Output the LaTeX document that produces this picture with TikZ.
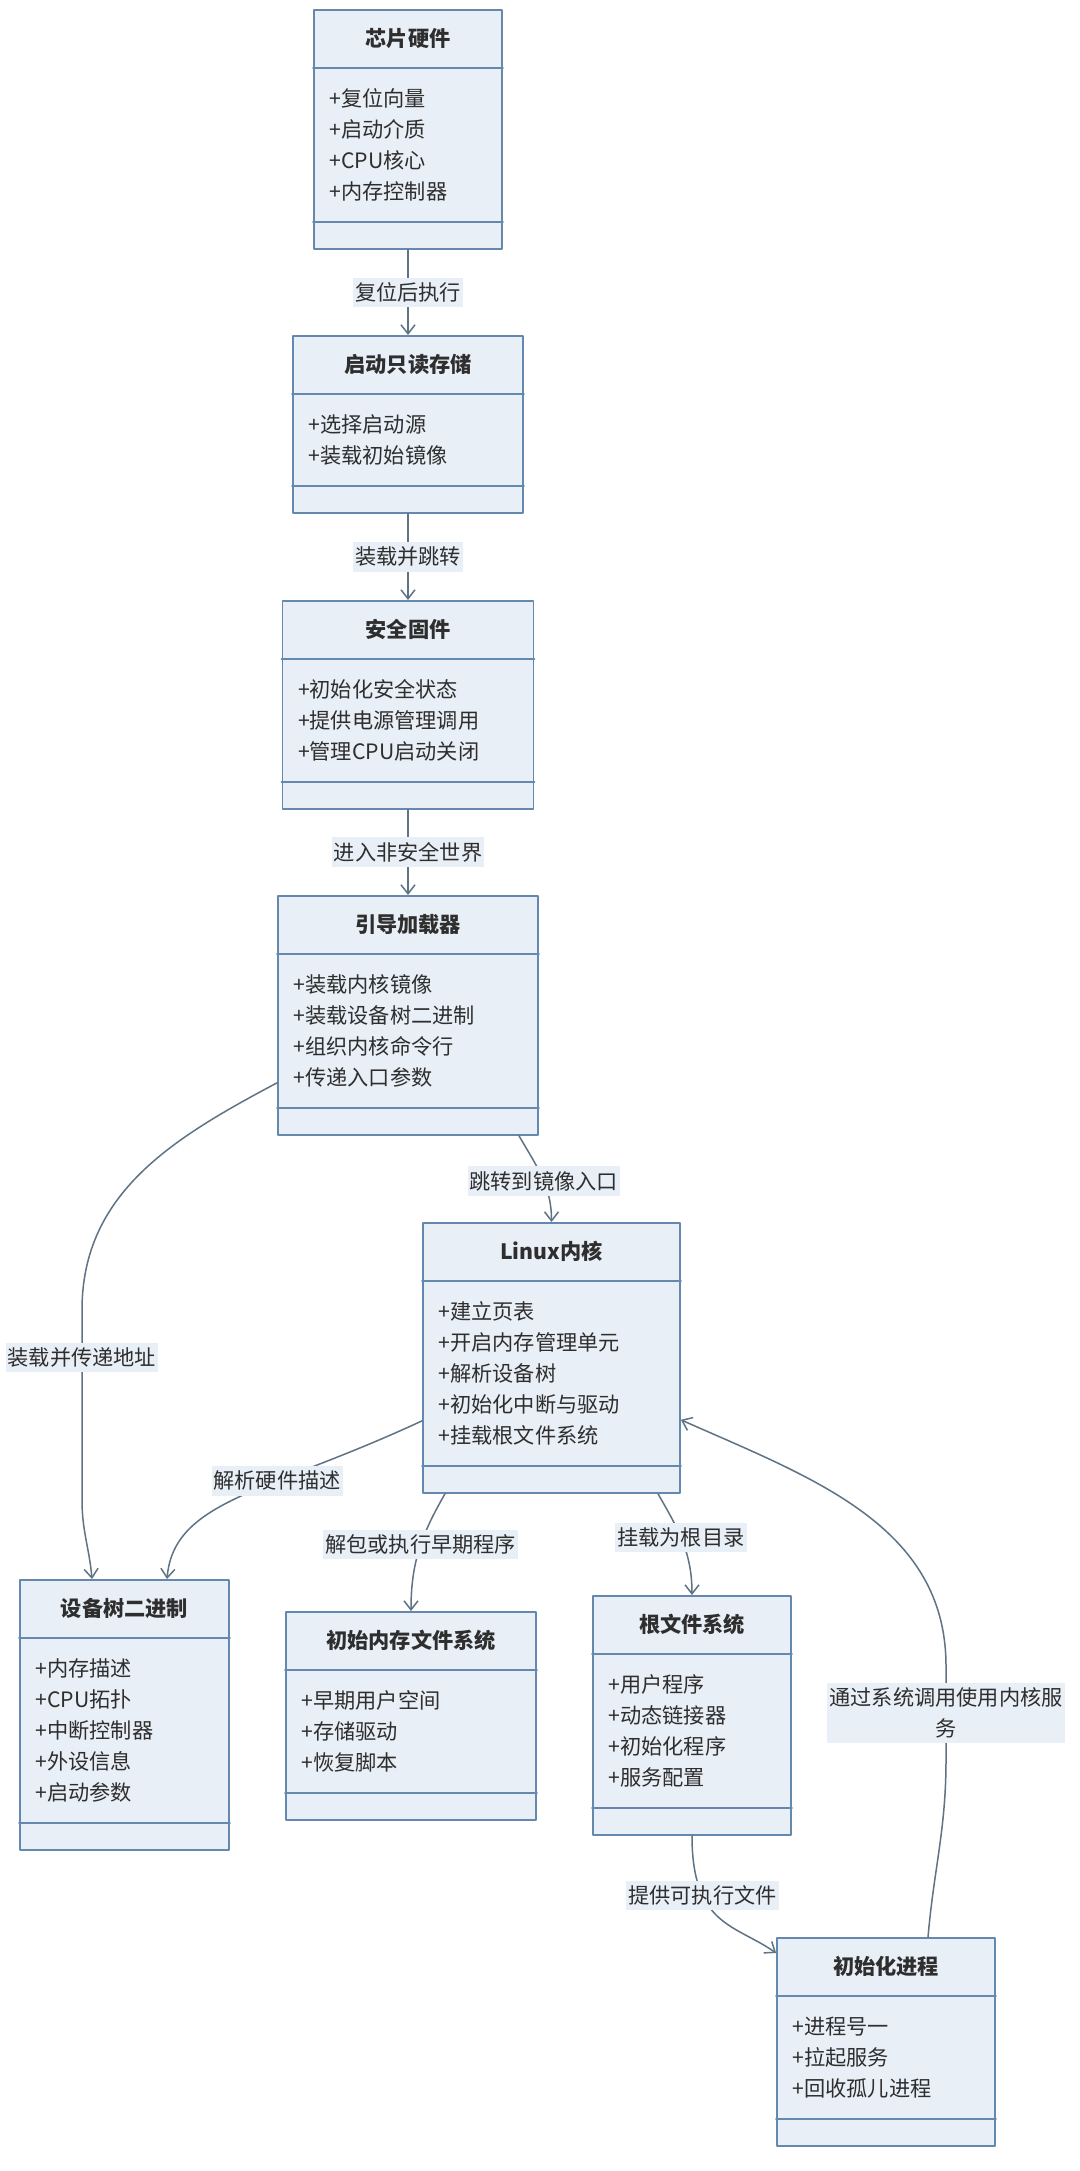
\documentclass[tikz,border=0pt]{standalone}
\usepackage{fontspec}
\setmainfont{Noto Sans CJK SC}
\usetikzlibrary{arrows.meta}
\definecolor{boxfill}{HTML}{E9EFF6}
\definecolor{boxline}{HTML}{6589AE}
\definecolor{linkline}{HTML}{5F7384}
\definecolor{inktext}{HTML}{2E2E2E}
\begin{document}
\begin{tikzpicture}[x=0.5pt,y=0.5pt,line join=round,line cap=round,
    >={Straight Barb[length=4.5pt,width=7pt]},
    every node/.style={font=\fontsize{10.6pt}{15.5pt}\selectfont,text=inktext},
    classbox/.style={draw=boxline,fill=boxfill,line width=0.9pt,anchor=north,inner sep=0pt},
    sepline/.style={draw=boxline,line width=0.9pt},
    classtitle/.style={font=\fontsize{10.6pt}{15.5pt}\selectfont\bfseries,inner sep=0pt},
    members/.style={align=left,inner sep=0pt,anchor=west},
    link/.style={->,draw=linkline,line width=0.75pt},
    lbl/.style={fill=boxfill,inner xsep=1pt,inner ysep=2.5pt}]
    \useasboundingbox[fill=white] (0,0) rectangle (1080,-2171);
    % name, top point, width, members, title, member list
    \def\umlclass#1#2#3#4#5#6{%
        \node[classbox,minimum width=#3*0.5pt,minimum height={(115+31*#4)*0.5pt}] (#1) at #2 {};
        \draw[sepline] ([yshift=-29.5pt]#1.north west) -- ([yshift=-29.5pt]#1.north east)
            ([yshift=14pt]#1.south west) -- ([yshift=14pt]#1.south east);
        \node[classtitle] (#1-t) at ([yshift=-14.75pt]#1.north) {#5};
        \node[members] (#1-m) at ([xshift=8pt,yshift=-7.75pt]#1.west) {#6};
    }
    \umlclass{chip}{(408,-9)}{188}{4}{芯片硬件}{+复位向量\\+启动介质\\+CPU核心\\+内存控制器}
    \umlclass{bootrom}{(408,-335)}{230}{2}{启动只读存储}{+选择启动源\\+装载初始镜像}
    \umlclass{secfw}{(408,-600)}{251}{3}{安全固件}{+初始化安全状态\\+提供电源管理调用\\+管理CPU启动关闭}
    \umlclass{loader}{(408,-895)}{260}{4}{引导加载器}{+装载内核镜像\\+装载设备树二进制\\+组织内核命令行\\+传递入口参数}
    \umlclass{kernel}{(551.5,-1222)}{257}{5}{Linux内核}{+建立页表\\+开启内存管理单元\\+解析设备树\\+初始化中断与驱动\\+挂载根文件系统}
    \umlclass{dtb}{(124.5,-1579)}{209}{5}{设备树二进制}{+内存描述\\+CPU拓扑\\+中断控制器\\+外设信息\\+启动参数}
    \umlclass{initrd}{(411,-1611)}{250}{3}{初始内存文件系统}{+早期用户空间\\+存储驱动\\+恢复脚本}
    \umlclass{rootfs}{(692,-1595)}{198}{4}{根文件系统}{+用户程序\\+动态链接器\\+初始化程序\\+服务配置}
    \umlclass{initproc}{(886,-1937)}{218}{3}{初始化进程}{+进程号一\\+拉起服务\\+回收孤儿进程}
    % boot chain
    \draw[link] (chip) -- node[lbl] (l1) {复位后执行} (bootrom);
    \draw[link] (bootrom) -- node[lbl] (l2) {装载并跳转} (secfw);
    \draw[link] (secfw) -- node[lbl] (l3) {进入非安全世界} (loader);
    \draw[link] ([xshift=55.5pt]loader.south) to[out=-60,in=90] node[lbl,pos=0.55] (l4) {跳转到镜像入口} (kernel.north);
    \draw[link] ([yshift=26.5pt]loader.south west) to[out=208,in=90] (82,-1310)
        -- node[lbl,pos=0.25] (l5) {装载并传递地址} (82,-1500) to[out=-90,in=95] ([xshift=-16.25pt]dtb.north);
    % kernel
    \draw[link] ([yshift=36.5pt]kernel.south west) .. controls +(205:170) and +(85:80) ..
        node[lbl,pos=0.37] (l6) {解析硬件描述} ([xshift=21.25pt]dtb.north);
    \draw[link] ([xshift=-53.25pt]kernel.south) to[out=-120,in=90] node[lbl,pos=0.45] (l7) {解包或执行早期程序} (initrd.north);
    \draw[link] ([xshift=53.25pt]kernel.south) to[out=-60,in=90] node[lbl,pos=0.45] (l8) {挂载为根目录} (rootfs.north);
    % user space
    \draw[link] (rootfs.south) .. controls +(0,-90) and +(145:50) .. node[lbl,pos=0.3] (l9) {提供可执行文件} ([yshift=-8pt]initproc.north west);
    \draw[link] ([xshift=21pt]initproc.north) to[out=85,in=-90] (946,-1760)
        -- node[lbl,align=center] (l10) {通过系统调用使用内核服\\务} (946,-1666) to[out=90,in=-24] ([yshift=37pt]kernel.south east);
\end{tikzpicture}
\end{document}
